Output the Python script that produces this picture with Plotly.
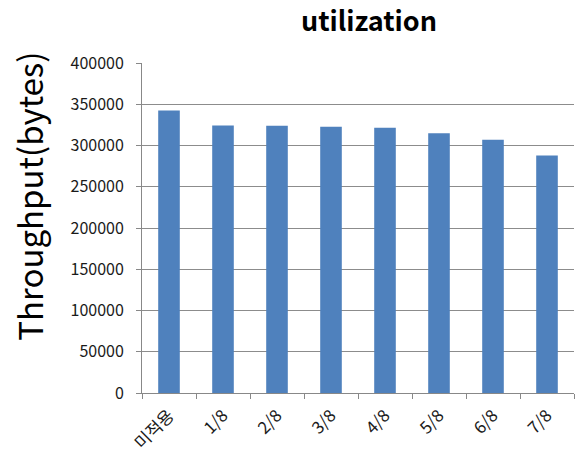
import plotly.graph_objects as go

categories = ["미적용", "1/8", "2/8", "3/8", "4/8", "5/8", "6/8", "7/8"]
throughput = [342500, 324200, 324000, 322600, 321400, 315000, 307000, 288000]
y_ticks = [0, 50000, 100000, 150000, 200000, 250000, 300000, 350000, 400000]

fig = go.Figure(go.Bar(x=categories, y=throughput, marker_color="#4F81BD",
                       marker_line_width=0))

font = "Noto Sans CJK KR, Open Sans, sans-serif"
fig.update_layout(
    width=582, height=467,
    margin=dict(l=142, r=8, t=63, b=74),
    paper_bgcolor="white", plot_bgcolor="white",
    bargap=0.6,
    showlegend=False,
    title=dict(text="<b>utilization</b>", x=0.634, xanchor="center", y=0.953, yanchor="middle",
               font=dict(family=font, size=27, color="black")),
    font=dict(family=font, size=15, color="#1a1a1a"),
    annotations=[dict(text="Throughput(bytes)", textangle=-90, xref="paper", yref="paper",
                      x=-0.262, y=0.597, xanchor="center", yanchor="middle", showarrow=False,
                      font=dict(family=font, size=33, color="black"))],
)
fig.update_xaxes(type="category", tickangle=-45, showline=True, linecolor="#888888",
                 linewidth=1, ticks="outside", tickson="boundaries", ticklen=5,
                 tickcolor="#888888", showgrid=False, tickfont=dict(size=17),
                 ticklabelstandoff=5)
fig.update_yaxes(range=[0, 400000], tickvals=y_ticks, ticktext=[str(v) for v in y_ticks],
                 showline=True, linecolor="#888888", linewidth=1, ticks="outside",
                 ticklen=5, tickcolor="#888888", showgrid=True, gridcolor="#8c8c8c",
                 gridwidth=1, zeroline=False, tickfont=dict(size=16),
                 ticklabelstandoff=9)

fig.write_html("out.html")
